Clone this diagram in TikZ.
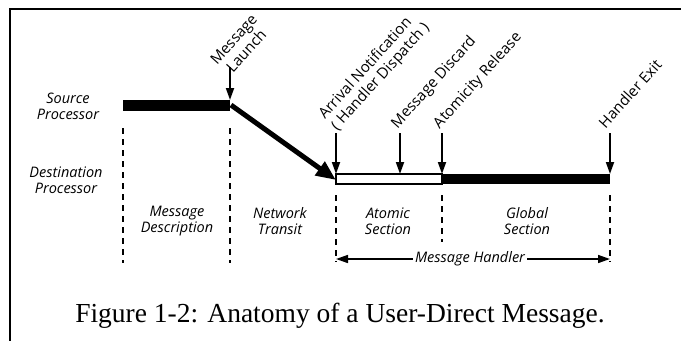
\documentclass[tikz,border=0pt]{standalone}
\usepackage{fontspec}
\setmainfont{Liberation Serif}
\newfontfamily\lblfont{Open Sans}
\usetikzlibrary{arrows.meta}
\begin{document}
\begin{tikzpicture}[x=1pt,y=1pt,
  lbl/.style={font=\lblfont\itshape\fontsize{14.5}{16}\selectfont, align=center, inner sep=0pt},
  rlbl/.style={font=\lblfont\fontsize{15}{17}\selectfont, anchor=base west, inner sep=0pt},
  darr/.style={line width=1.8pt, -{Triangle[length=12pt,width=8pt]}},
  dashv/.style={line width=1.4pt, dash pattern=on 6pt off 5pt},
  bigarr/.style={line width=5pt, -{Triangle[length=20pt,width=16pt]}},
  harr/.style={line width=1.6pt, -{Triangle[length=12pt,width=8pt]}},
]
\useasboundingbox (0,0) rectangle (681,-341);
% frame
\coordinate (fr) at (681,-9);
\coordinate (fc) at (10,-9);
\coordinate (fb) at (10,-341);
\draw[line width=1.8pt] (fr) -- (fc) -- (fb);

% source bar
\coordinate (s1) at (123,-100);
\coordinate (s2) at (230,-111);
\fill (s1) rectangle (s2);

% message launch
\coordinate (lt) at (230,-67);
\coordinate (lb) at (230,-100);
\draw[darr] (lt) -- (lb);
\node[rlbl] (launch) at (208,-77) {\rotatebox{48}{\begin{tabular}[b]{@{}c@{}}Message\\Launch\end{tabular}}};

% diagonal transit arrow
\coordinate (d1) at (231,-105);
\coordinate (d2) at (336,-180);
\draw[bigarr] (d1) -- (d2);

% destination bars
\coordinate (w1) at (336,-174);
\coordinate (w2) at (442,-184);
\coordinate (b1) at (442,-174);
\coordinate (b2) at (610,-184);
\draw[line width=1.2pt, fill=white] (w1) rectangle (w2);
\fill (b1) rectangle (b2);

% event arrows
\foreach \x/\n in {336/arr, 400/dis, 442/atr, 610/hex}{
  \coordinate (\n t) at (\x,-133);
  \coordinate (\n b) at (\x,-174);
  \draw[darr] (\n t) -- (\n b);
}
\node[rlbl] (arrival) at (316,-131) {\rotatebox{48}{\begin{tabular}[b]{@{}l@{}}Arrival Notification\\( Handler Dispatch )\end{tabular}}};
\node[rlbl] (discard) at (389,-129) {\rotatebox{48}{Message Discard}};
\node[rlbl] (release) at (431,-129) {\rotatebox{48}{Atomicity Release}};
\node[rlbl] (hexit) at (597,-129) {\rotatebox{48}{Handler Exit}};

% dashed separators
\foreach \x/\a/\b/\n in {123/128/263/v1, 230/128/263/v2, 336/195/262/v3, 442/195/242/v4, 610/195/262/v5}{
  \coordinate (\n a) at (\x,-\a);
  \coordinate (\n b) at (\x,-\b);
  \draw[dashv] (\n a) -- (\n b);
}

% left labels
\node[lbl] (src) at (68,-106) {Source\\Processor};
\node[lbl] (dst) at (66,-180) {Destination\\Processor};

% section labels
\node[lbl] (md) at (177,-221) {Message\\Description};
\node[lbl] (nt) at (280,-221) {Network\\Transit};
\node[lbl] (as) at (388,-221) {Atomic\\Section};
\node[lbl] (gs) at (527,-221) {Global\\Section};

% message handler
\node[lbl, fill=white, inner xsep=2pt] (mh) at (470,-259) {Message Handler};
\coordinate (mhl) at (336,-259);
\coordinate (mhr) at (610,-259);
\draw[harr] (mh.west) -- (mhl);
\draw[harr] (mh.east) -- (mhr);

% caption
\node[font=\fontsize{27.5}{30}\selectfont, inner sep=0pt] (cap) at (340,-316) {Figure 1-2: Anatomy of a User-Direct Message.};
\end{tikzpicture}
\end{document}
